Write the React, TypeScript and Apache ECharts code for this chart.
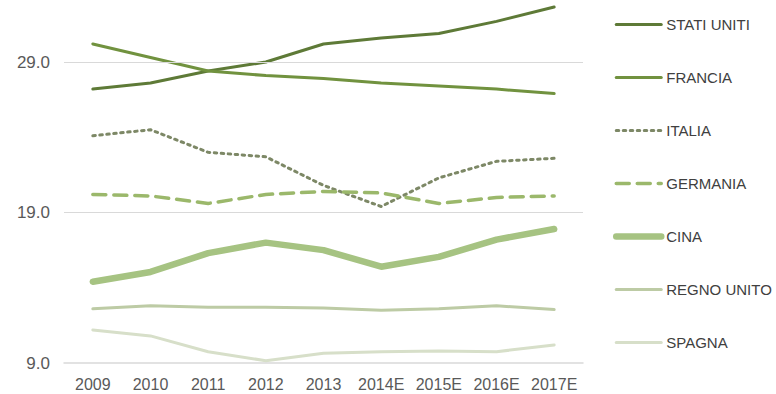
import React, { useEffect, useRef } from "react";
import * as echarts from "echarts";

const categories = ["2009", "2010", "2011", "2012", "2013", "2014E", "2015E", "2016E", "2017E"];
const statiUniti = [27.2, 27.6, 28.4, 29.0, 30.2, 30.6, 30.9, 31.7, 32.65];
const francia = [30.2, 29.3, 28.4, 28.1, 27.9, 27.6, 27.4, 27.2, 26.9];
const italia = [24.1, 24.5, 23.0, 22.7, 20.8, 19.4, 21.3, 22.4, 22.6];
const germania = [20.2, 20.1, 19.6, 20.2, 20.4, 20.3, 19.6, 20.0, 20.1];
const cina = [14.4, 15.05, 16.3, 17.0, 16.5, 15.4, 16.05, 17.2, 17.9];
const regnoUnito = [12.6, 12.8, 12.7, 12.7, 12.65, 12.5, 12.6, 12.8, 12.55];
const spagna = [11.2, 10.8, 9.75, 9.15, 9.65, 9.75, 9.8, 9.75, 10.2];
const gridValues = [19, 29];
const yMin = 9;
const yMax = 33.12;

const seriesDefs = [
  { name: "STATI UNITI", data: statiUniti, color: "#5e7a37", width: 3, type: "solid" as any },
  { name: "FRANCIA", data: francia, color: "#71923f", width: 3, type: "solid" as any },
  { name: "ITALIA", data: italia, color: "#7d8866", width: 3, type: [2.5, 4.5] as any },
  { name: "GERMANIA", data: germania, color: "#9bb86b", width: 3.5, type: [13, 8] as any },
  { name: "CINA", data: cina, color: "#a6c382", width: 6.5, type: "solid" as any },
  { name: "REGNO UNITO", data: regnoUnito, color: "#bdcba5", width: 3, type: "solid" as any },
  { name: "SPAGNA", data: spagna, color: "#d7dfc9", width: 3, type: "solid" as any },
];

export default function App() {
  const ref = useRef<HTMLDivElement>(null);
  useEffect(() => {
    if (!ref.current) return;
    const chart = echarts.init(ref.current, null, { renderer: "svg" });
    const font = "'Liberation Sans', Arial, sans-serif";
    const series: any[] = [
      {
        name: "__grid",
        type: "line",
        data: [],
        silent: true,
        markLine: {
          silent: true,
          symbol: "none",
          label: { show: false },
          lineStyle: { color: "#d9d9d9", width: 1.2, type: "solid" },
          data: gridValues.map((v) => ({ yAxis: v })),
        },
      },
      ...seriesDefs.map((s) => ({
        name: s.name,
        type: "line",
        data: s.data,
        symbol: "none",
        color: s.color,
        lineStyle: { color: s.color, width: s.width, type: s.type, cap: "round" },
      })),
    ];
    chart.setOption({
      animation: false,
      backgroundColor: "#ffffff",
      textStyle: { fontFamily: font },
      grid: { left: 64, right: 193, top: 0, bottom: 31, containLabel: false },
      legend: {
        orient: "vertical",
        left: 608,
        top: 12,
        itemWidth: 45,
        itemHeight: 16,
        itemGap: 38,
        itemStyle: { opacity: 0 },
        lineStyle: { width: "inherit" },
        textStyle: { fontFamily: font, fontSize: 15, color: "#404040" },
        data: seriesDefs.map((s) => s.name),
      },
      xAxis: {
        type: "category",
        data: categories,
        boundaryGap: true,
        axisLine: { show: true, lineStyle: { color: "#d9d9d9", width: 1.5 } },
        axisTick: { show: false },
        axisLabel: { color: "#595959", fontSize: 16, fontFamily: font, margin: 13, interval: 0 },
      },
      yAxis: {
        type: "value",
        min: yMin,
        max: yMax,
        interval: 10,
        axisLine: { show: false },
        axisTick: { show: false },
        axisLabel: {
          color: "#595959",
          fontSize: 17,
          fontFamily: font,
          margin: 14,
          showMaxLabel: false,
          formatter: (v: number) => v.toFixed(1),
        },
        splitLine: { show: false },
      },
      series,
    });
    return () => chart.dispose();
  }, []);
  return <div ref={ref} style={{ width: 776, height: 394, position: "absolute", left: 0, top: 0 }} />;
}
